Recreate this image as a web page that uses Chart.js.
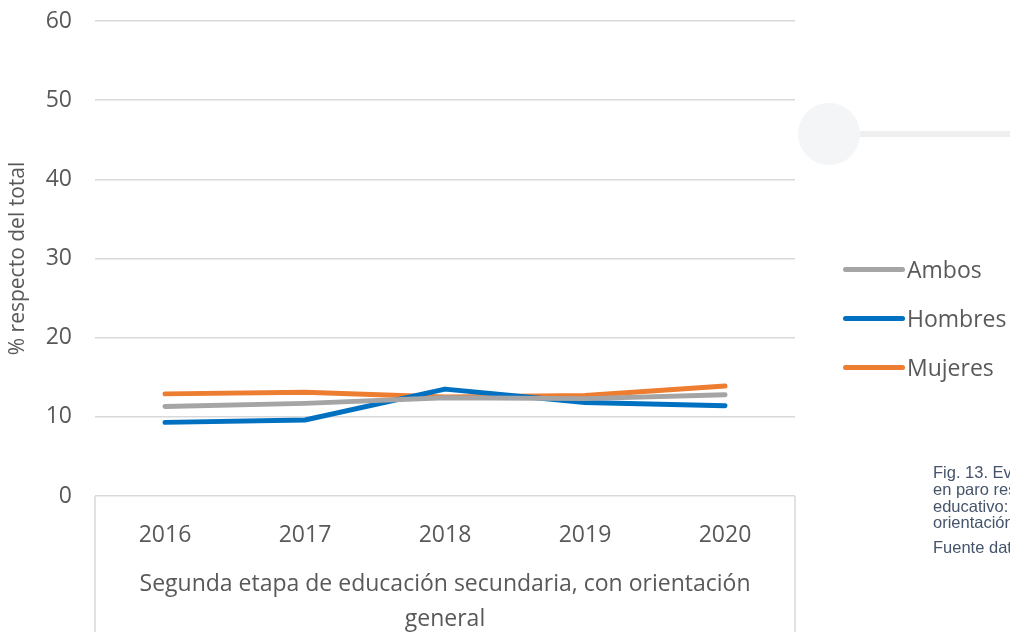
<!DOCTYPE html>
<html lang="es">
<head>
    <meta charset="UTF-8">
    <title>% respecto del total</title>
    <script src="https://cdn.jsdelivr.net/npm/chart.js"></script>
    <style>
        body {
            margin: 0;
            background: #fff;
            font-family: "Open Sans", sans-serif;
        }
        #wrap {
            position: relative;
            width: 1010px;
            height: 632px;
            overflow: hidden;
        }
        #chartBox {
            position: absolute;
            left: 0;
            top: 0;
            width: 1010px;
            height: 632px;
        }
        #dot {
            position: absolute;
            left: 798px;
            top: 103px;
            width: 62px;
            height: 62px;
            border-radius: 50%;
            background: #f4f5f7;
        }
        #bar {
            position: absolute;
            left: 860px;
            top: 131px;
            width: 150px;
            height: 6px;
            background: #efefef;
        }
        #legend {
            position: absolute;
            left: 843px;
            top: 255px;
        }
        .item {
            height: 49px;
            line-height: 28px;
            display: flex;
            align-items: flex-start;
            white-space: nowrap;
            font-size: 23px;
            color: #595959;
        }
        .item .sw {
            width: 62px;
            height: 5px;
            border-radius: 3px;
            margin-top: 12px;
            margin-right: 2px;
        }
        #caption {
            position: absolute;
            left: 933px;
            top: 464px;
            width: 300px;
            font-family: "Liberation Sans", Arial, sans-serif;
            font-size: 16.5px;
            line-height: 16.8px;
            color: #44546a;
        }
        #caption p {
            margin: 0 0 8px 0;
        }
    </style>
</head>
<body>
<div id="wrap">
    <div id="dot"></div>
    <div id="bar"></div>
    <div id="chartBox"><canvas id="myChart"></canvas></div>
    <div id="legend"></div>
    <div id="caption">
        <p>Fig. 13. Evolución del porcentaje de<br>en paro respecto del total por nivel<br>educativo: segunda etapa, con<br>orientación general</p>
        <p>Fuente datos: INE</p>
    </div>
</div>

<script>
    const years = ['2016', '2017', '2018', '2019', '2020'];
    const seriesNames = ['Ambos', 'Hombres', 'Mujeres'];
    const seriesColors = ['#a5a5a5', '#0070c0', '#ed7d31'];
    const ambos = [11.3, 11.7, 12.4, 12.3, 12.8];
    const hombres = [9.3, 9.6, 13.5, 11.8, 11.4];
    const mujeres = [12.9, 13.1, 12.5, 12.7, 13.9];
    const yTicks = [0, 10, 20, 30, 40, 50, 60];
    const xTitle = ['Segunda etapa de educación secundaria, con orientación', 'general'];
    const yTitle = '% respecto del total';

    const values = [ambos, hombres, mujeres];
    const textColor = '#595959';
    const gridColor = '#d9d9d9';

    // marco bajo el eje de categorías, como en Excel
    const axisBox = {
        id: 'axisBox',
        afterDraw(chart) {
            const ctx = chart.ctx;
            const a = chart.chartArea;
            ctx.save();
            ctx.strokeStyle = gridColor;
            ctx.lineWidth = 1.5;
            ctx.beginPath();
            ctx.moveTo(a.left, a.bottom);
            ctx.lineTo(a.left, chart.height);
            ctx.moveTo(a.right, a.bottom);
            ctx.lineTo(a.right, chart.height);
            ctx.stroke();
            ctx.restore();
        }
    };

    const datasets = seriesNames.map((name, i) => ({
        label: name,
        data: values[i],
        borderColor: seriesColors[i],
        backgroundColor: seriesColors[i],
        borderWidth: 5,
        pointRadius: 0,
        tension: 0,
        borderCapStyle: 'round',
        borderJoinStyle: 'round'
    }));

    const chart = new Chart(document.getElementById('myChart'), {
        type: 'line',
        data: { labels: years, datasets: datasets },
        plugins: [axisBox],
        options: {
            responsive: true,
            maintainAspectRatio: false,
            animation: false,
            layout: { padding: { top: 21, right: 215, bottom: 0, left: 0 } },
            plugins: {
                legend: { display: false },
                tooltip: { enabled: false }
            },
            scales: {
                x: {
                    type: 'category',
                    offset: true,
                    grid: { display: false },
                    border: { display: false },
                    ticks: {
                        color: textColor,
                        font: { family: 'Open Sans', size: 23 },
                        padding: 18,
                        maxRotation: 0
                    },
                    title: {
                        display: true,
                        text: xTitle,
                        color: textColor,
                        font: { family: 'Open Sans', size: 23, lineHeight: '35px' },
                        padding: { top: 0, bottom: -5 }
                    },
                    afterFit(scale) { scale.height = 136; }
                },
                y: {
                    min: 0,
                    max: 60,
                    afterBuildTicks(scale) { scale.ticks = yTicks.map(v => ({ value: v })); },
                    grid: { color: gridColor, lineWidth: 1.5, drawTicks: false },
                    border: { display: false },
                    ticks: {
                        color: textColor,
                        font: { family: 'Open Sans', size: 23 },
                        padding: 23
                    },
                    title: {
                        display: true,
                        text: yTitle,
                        color: textColor,
                        font: { family: 'Open Sans', size: 21 },
                        padding: { top: 5, bottom: 0 }
                    },
                    afterFit(scale) {
                        scale.width = 95;
                        scale.paddingTop = 0;
                        scale.paddingBottom = 0;
                    }
                }
            }
        }
    });

    // leyenda a partir de las series
    const legend = document.getElementById('legend');
    datasets.forEach(ds => {
        const row = document.createElement('div');
        row.className = 'item';
        const sw = document.createElement('span');
        sw.className = 'sw';
        sw.style.background = ds.borderColor;
        const label = document.createElement('span');
        label.textContent = ds.label;
        row.appendChild(sw);
        row.appendChild(label);
        legend.appendChild(row);
    });
</script>
</body>
</html>
